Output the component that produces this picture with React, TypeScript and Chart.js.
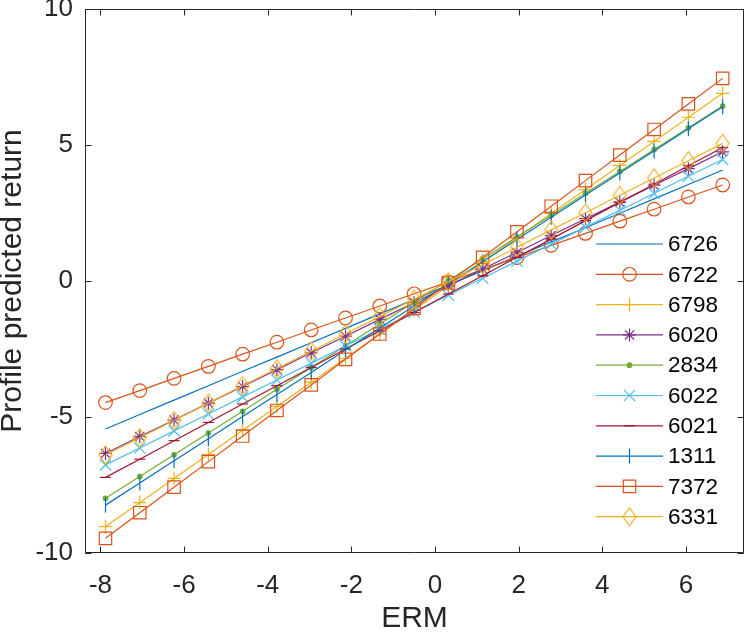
import { useEffect, useRef } from 'react';
import { Chart, registerables } from 'chart.js';
import { drawPoint } from 'chart.js/helpers';

Chart.register(...registerables);

// ERM values on the x axis (same for every profile)
const erm = [-7.88, -7.06, -6.24, -5.42, -4.6, -3.78, -2.96, -2.14, -1.32, -0.5, 0.32, 1.14, 1.96, 2.78, 3.6, 4.42, 5.24, 6.06, 6.88];

const seriesNames = ['6726', '6722', '6798', '6020', '2834', '6022', '6021', '1311', '7372', '6331'];

const r6726 = [-5.44, -4.91, -4.38, -3.85, -3.32, -2.8, -2.27, -1.74, -1.21, -0.68, -0.15, 0.38, 0.91, 1.44, 1.96, 2.49, 3.02, 3.55, 4.08];
const r6722 = [-4.47, -4.03, -3.58, -3.14, -2.69, -2.25, -1.8, -1.36, -0.92, -0.47, -0.03, 0.42, 0.86, 1.31, 1.75, 2.2, 2.64, 3.09, 3.53];
const r6798 = [-9.03, -8.15, -7.26, -6.38, -5.49, -4.61, -3.72, -2.84, -1.95, -1.07, -0.18, 0.71, 1.59, 2.48, 3.36, 4.25, 5.13, 6.02, 6.9];
const r6020 = [-6.34, -5.72, -5.11, -4.49, -3.88, -3.26, -2.64, -2.03, -1.41, -0.8, -0.18, 0.44, 1.05, 1.67, 2.29, 2.9, 3.52, 4.13, 4.75];
const r2834 = [-7.99, -7.19, -6.39, -5.59, -4.79, -3.98, -3.18, -2.38, -1.58, -0.78, 0.02, 0.82, 1.62, 2.42, 3.23, 4.03, 4.83, 5.63, 6.43];
const r6022 = [-6.76, -6.14, -5.51, -4.89, -4.26, -3.64, -3.02, -2.39, -1.77, -1.15, -0.52, 0.1, 0.73, 1.35, 1.98, 2.6, 3.22, 3.85, 4.47];
const r6021 = [-7.22, -6.55, -5.87, -5.2, -4.52, -3.85, -3.18, -2.5, -1.83, -1.16, -0.48, 0.19, 0.87, 1.54, 2.22, 2.89, 3.56, 4.24, 4.91];
const r1311 = [-8.24, -7.43, -6.61, -5.8, -4.98, -4.17, -3.36, -2.54, -1.73, -0.92, -0.1, 0.71, 1.53, 2.34, 3.16, 3.97, 4.78, 5.6, 6.41];
const r7372 = [-9.46, -8.52, -7.58, -6.64, -5.7, -4.76, -3.82, -2.88, -1.95, -1.01, -0.07, 0.87, 1.81, 2.75, 3.69, 4.63, 5.57, 6.51, 7.45];
const r6331 = [-6.4, -5.76, -5.13, -4.49, -3.85, -3.22, -2.58, -1.94, -1.31, -0.67, -0.03, 0.6, 1.24, 1.88, 2.51, 3.15, 3.79, 4.42, 5.06];

const seriesValues = [r6726, r6722, r6798, r6020, r2834, r6022, r6021, r1311, r7372, r6331];

const xTicks = [-8, -6, -4, -2, 0, 2, 4, 6];
const yTicks = [-10, -5, 0, 5, 10];

const FONT = '"Liberation Sans", Arial, Helvetica, sans-serif';
const AXIS_COLOR = '#262626';

// MATLAB-like diamond (a bit taller than wide)
function makeDiamond(color: string) {
  const w = 15;
  const h = 20;
  const c = document.createElement('canvas');
  c.width = w;
  c.height = h;
  const g = c.getContext('2d')!;
  g.strokeStyle = color;
  g.lineWidth = 1.2;
  g.beginPath();
  g.moveTo(w / 2, 1);
  g.lineTo(w - 1, h / 2);
  g.lineTo(w / 2, h - 1);
  g.lineTo(1, h / 2);
  g.closePath();
  g.stroke();
  return c;
}

type MarkerStyle = {
  color: string;
  marker: any;
  radius: number;
  rotation?: number;
  filled?: boolean;
};

function buildStyles(): MarkerStyle[] {
  return [
    { color: '#0072BD', marker: 'circle', radius: 0 },
    { color: '#D95319', marker: 'circle', radius: 6.8 },
    { color: '#EDB120', marker: 'cross', radius: 6.8 },
    { color: '#7E2F8E', marker: 'star', radius: 6.5 },
    { color: '#77AC30', marker: 'circle', radius: 2.3, filled: true },
    { color: '#4DBEEE', marker: 'crossRot', radius: 8 },
    { color: '#A2142F', marker: 'line', radius: 5.5 },
    { color: '#0072BD', marker: 'line', radius: 7.5, rotation: 90 },
    { color: '#D95319', marker: 'rect', radius: 8.8 },
    { color: '#EDB120', marker: makeDiamond('#EDB120'), radius: 8 },
  ];
}

// box around the plot with inward ticks on all four sides
const axesBox = {
  id: 'axesBox',
  afterDraw(chart: any) {
    const { ctx, chartArea: a, scales } = chart;
    const len = 6.5;
    ctx.save();
    ctx.strokeStyle = AXIS_COLOR;
    ctx.lineWidth = 1;
    ctx.beginPath();
    ctx.rect(a.left + 0.5, a.top + 0.5, a.right - a.left - 1, a.bottom - a.top - 1);
    xTicks.forEach((v) => {
      const px = Math.round(scales.x.getPixelForValue(v)) + 0.5;
      ctx.moveTo(px, a.bottom);
      ctx.lineTo(px, a.bottom - len);
      ctx.moveTo(px, a.top);
      ctx.lineTo(px, a.top + len);
    });
    yTicks.forEach((v) => {
      const py = Math.round(scales.y.getPixelForValue(v)) + 0.5;
      ctx.moveTo(a.left, py);
      ctx.lineTo(a.left + len, py);
      ctx.moveTo(a.right, py);
      ctx.lineTo(a.right - len, py);
    });
    ctx.stroke();
    ctx.restore();
  },
};

// legend drawn like MATLAB: line sample with the marker in its middle
const matLegend = {
  id: 'matLegend',
  afterDraw(chart: any) {
    const { ctx, chartArea: a } = chart;
    const x0 = a.right - 148;
    const x1 = a.right - 81;
    const xm = (x0 + x1) / 2;
    const xt = a.right - 76;
    const y0 = a.top + 235;
    const step = 30.3;
    ctx.save();
    ctx.font = `22.5px ${FONT}`;
    ctx.textBaseline = 'middle';
    ctx.textAlign = 'left';
    chart.data.datasets.forEach((ds: any, i: number) => {
      const y = y0 + i * step;
      ctx.strokeStyle = ds.borderColor;
      ctx.lineWidth = 1.2;
      ctx.beginPath();
      ctx.moveTo(x0, y);
      ctx.lineTo(x1, y);
      ctx.stroke();
      if (ds.pointRadius > 0) {
        ctx.fillStyle = ds.pointBackgroundColor;
        drawPoint(ctx, {
          pointStyle: ds.pointStyle,
          rotation: ds.pointRotation,
          radius: ds.pointRadius,
          borderWidth: 1.2,
        } as any, xm, y);
      }
      ctx.fillStyle = '#000000';
      ctx.fillText(ds.label, xt, y + 1);
    });
    ctx.restore();
  },
};

export default function App() {
  const canvasRef = useRef<HTMLCanvasElement>(null);
  const chartRef = useRef<Chart | null>(null);

  useEffect(() => {
    if (!canvasRef.current) return;
    if (chartRef.current) chartRef.current.destroy();

    const styles = buildStyles();
    const datasets = seriesNames.map((name, i) => {
      const st = styles[i];
      return {
        label: name,
        data: erm.map((x, k) => ({ x, y: seriesValues[i][k] })),
        borderColor: st.color,
        backgroundColor: st.color,
        borderWidth: 1.2,
        pointStyle: st.marker,
        pointRadius: st.radius,
        pointHoverRadius: st.radius,
        pointRotation: st.rotation ?? 0,
        pointBorderColor: st.color,
        pointBackgroundColor: st.filled ? st.color : 'rgba(0,0,0,0)',
        pointBorderWidth: 1.2,
        fill: false,
        tension: 0,
        order: seriesNames.length - i,
      };
    });

    chartRef.current = new Chart(canvasRef.current, {
      type: 'line',
      data: { datasets },
      options: {
        animation: false,
        responsive: true,
        maintainAspectRatio: false,
        layout: { autoPadding: false, padding: { top: 9, right: 3, left: 0, bottom: 0 } },
        plugins: {
          legend: { display: false },
          tooltip: { enabled: false },
        },
        scales: {
          x: {
            type: 'linear',
            min: -8.37,
            max: 7.39,
            grid: { display: false, drawTicks: false },
            border: { display: false },
            afterBuildTicks: (scale: any) => {
              scale.ticks = xTicks.map((v) => ({ value: v }));
            },
            afterFit: (scale: any) => {
              scale.height = 81;
              scale.paddingLeft = 0;
              scale.paddingRight = 0;
            },
            ticks: {
              color: AXIS_COLOR,
              padding: 17,
              maxRotation: 0,
              autoSkip: false,
              font: { family: FONT, size: 26 },
            },
            title: {
              display: true,
              text: 'ERM',
              color: AXIS_COLOR,
              padding: { top: -2, bottom: 0 },
              font: { family: FONT, size: 30, lineHeight: 1 },
            },
          },
          y: {
            type: 'linear',
            min: -10,
            max: 10,
            grid: { display: false, drawTicks: false },
            border: { display: false },
            afterBuildTicks: (scale: any) => {
              scale.ticks = yTicks.map((v) => ({ value: v }));
            },
            afterFit: (scale: any) => {
              scale.width = 85;
              scale.paddingTop = 0;
              scale.paddingBottom = 0;
            },
            ticks: {
              color: AXIS_COLOR,
              padding: 12,
              autoSkip: false,
              font: { family: FONT, size: 26 },
            },
            title: {
              display: true,
              text: 'Profile predicted return',
              color: AXIS_COLOR,
              padding: { top: -2.5, bottom: 0 },
              font: { family: FONT, size: 30, lineHeight: 1 },
            },
          },
        },
      },
      plugins: [axesBox, matLegend],
    });

    return () => {
      if (chartRef.current) {
        chartRef.current.destroy();
        chartRef.current = null;
      }
    };
  }, []);

  return (
    <div style={{ position: 'fixed', left: 0, top: 0, width: 747, height: 634, background: '#ffffff' }}>
      <canvas ref={canvasRef} />
    </div>
  );
}
